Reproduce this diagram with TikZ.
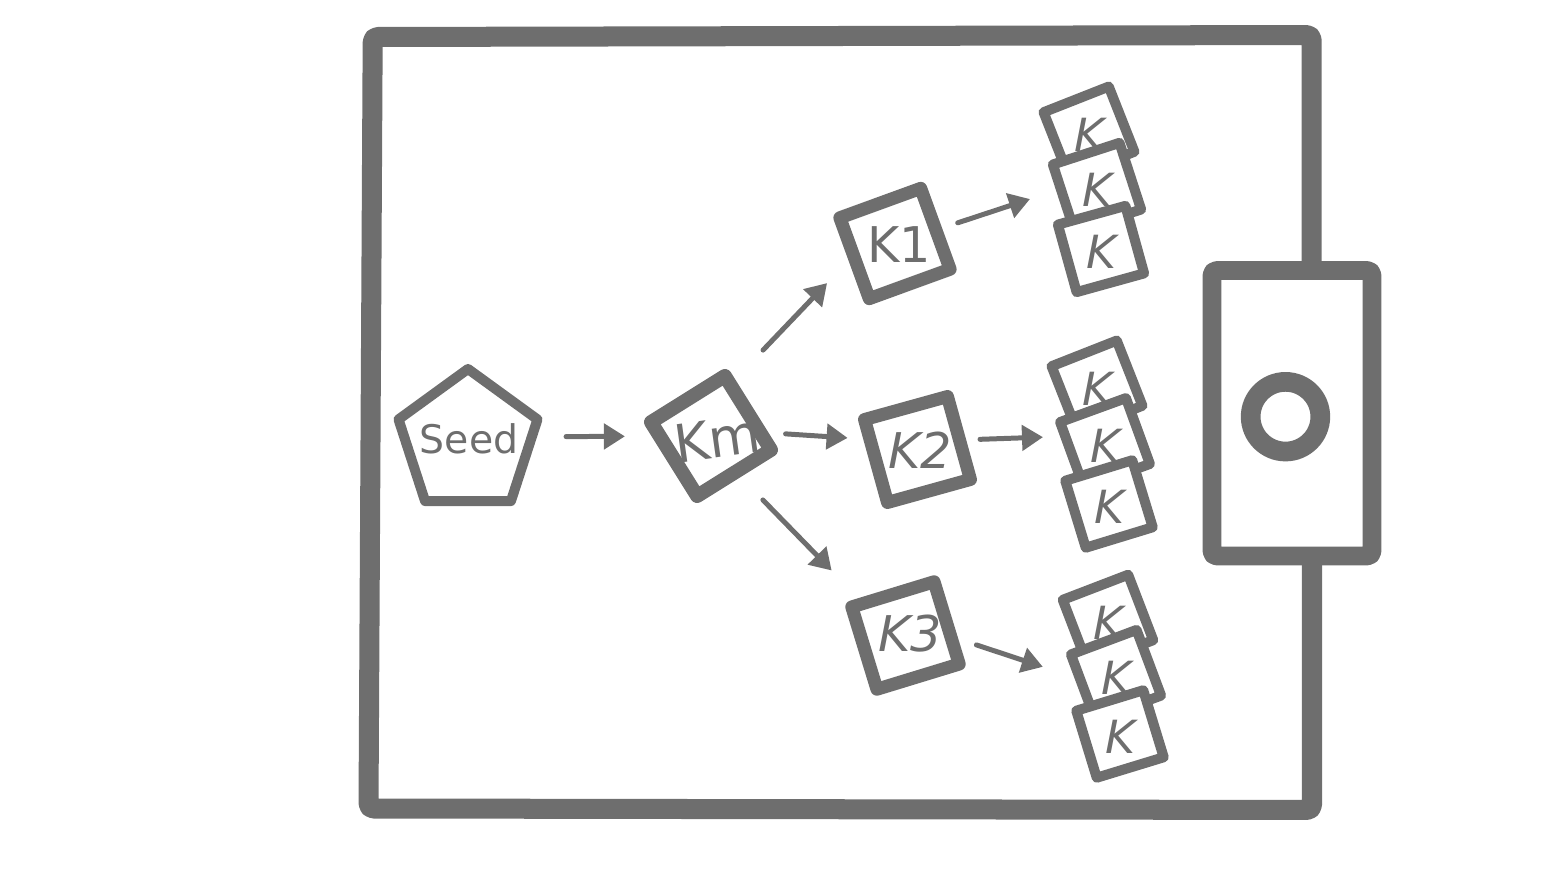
\documentclass[tikz,border=0pt]{standalone}
\usepackage{fontspec}
\setmainfont{DejaVu Sans}
\usetikzlibrary{shapes.geometric,arrows.meta}
\definecolor{ink}{RGB}{110,110,110}
\tikzset{
    kbox/.style={draw=ink, fill=white, line width=3.7pt, minimum size=0.86cm, inner sep=0pt, line join=round},
    kstack/.style={kbox, line width=2.85pt, minimum size=0.70cm},
    klabel/.style={text=ink, inner sep=0pt, font=\fontsize{14}{14}\selectfont},
    slabel/.style={text=ink, inner sep=0pt, font=\fontsize{13}{13}\selectfont\itshape},
    arr/.style={draw=ink, fill=ink, line width=1.42pt, -{Triangle[length=0.21cm,width=0.25cm]}, line cap=round},
    frame/.style={draw=ink, line width=5.69pt, rounded corners=0.05cm, line join=round}
}

\begin{document}
\begin{tikzpicture}[x=0.01cm,y=0.01cm,yscale=-1]
        \useasboundingbox (0,0) rectangle (1568,882);
        % outer frame and the box on its right side
        \draw[frame] (1311.7,270) -- (1311.7,35) -- (372.7,37) -- (368.5,808.5) -- (1312,810) -- (1312,556);
        \draw[frame, line width=5.4pt, fill=white] (1212,270.5) rectangle (1372,556);
        \draw[draw=ink, line width=5.6pt] (1285.5,416.7) circle (0.348cm);
        % seed and keys
        \node[regular polygon, regular polygon sides=5, draw=ink, line width=2.85pt, minimum size=1.46cm, inner sep=0pt, line join=round] (seed) at (468,442) {};
        \node[klabel, font=\fontsize{11.2}{11.2}\selectfont] (seedt) at (469,439) {Seed};
        \node[kbox, line width=4pt, minimum size=0.87cm, rotate=32] (km) at (711,436) {};
        \node[klabel, font=\fontsize{15}{15}\selectfont, rotate=8] (kmt) at (717,438) {Km};
        \node[kbox, rotate=20] (k1) at (895,243.5) {};
        \node[klabel] (k1t) at (899,245) {K1};
        \node[kbox, rotate=15.5] (k2) at (917.5,449.5) {};
        \node[klabel, font=\fontsize{14}{14}\selectfont\itshape] (k2t) at (920,450) {K2};
        \node[kbox, rotate=17] (k3) at (905.5,635.5) {};
        \node[klabel, font=\fontsize{14}{14}\selectfont\itshape] (k3t) at (910,634) {K3};
        % stacks
        \foreach \n/\x/\y/\a in {s1a/1089/132/21.5, s1b/1097/187/18, s1c/1101/249/15.5,
                                 s2a/1097/386/21.5, s2b/1105/443/20, s2c/1109/504/17,
                                 s3a/1108/620/21, s3b/1116/675/20.5, s3c/1120/734/17}
        {
            \node[kstack, rotate=\a] (\n) at (\x,\y) {};
            \node[slabel] (\n-t) at (\x,\y+3) {K};
        }
        % arrows
        \draw[arr, shorten <=0.98cm, shorten >=0.86cm] ([yshift=-0.05cm]seed.center) -- (km.center);
        \draw[arr, shorten <=0.98cm, shorten >=0.755cm] ([xshift=-0.157cm,yshift=-0.15cm]km.center) -- ([xshift=-0.157cm,yshift=-0.15cm]k1.center);
        \draw[arr, shorten <=0.747cm, shorten >=0.70cm] ([yshift=-0.07cm]km.center) -- ([yshift=-0.07cm]k2.center);
        \draw[arr, shorten <=0.82cm, shorten >=0.98cm] ([xshift=-0.054cm,yshift=0.052cm]km.center) -- ([xshift=-0.054cm,yshift=0.052cm]k3.center);
        \draw[arr, shorten <=0.66cm, shorten >=0.705cm] (k1.center) -- ([yshift=-0.1cm]s1b.center);
        \draw[arr, shorten <=0.625cm, shorten >=0.62cm] ([yshift=-0.08cm]k2.center) -- ([yshift=-0.08cm]s2b.center);
        \draw[arr, shorten <=0.746cm, shorten >=0.77cm] ([yshift=-0.14cm]k3.center) -- ([yshift=0.16cm]s3b.center);
\end{tikzpicture}
\end{document}
